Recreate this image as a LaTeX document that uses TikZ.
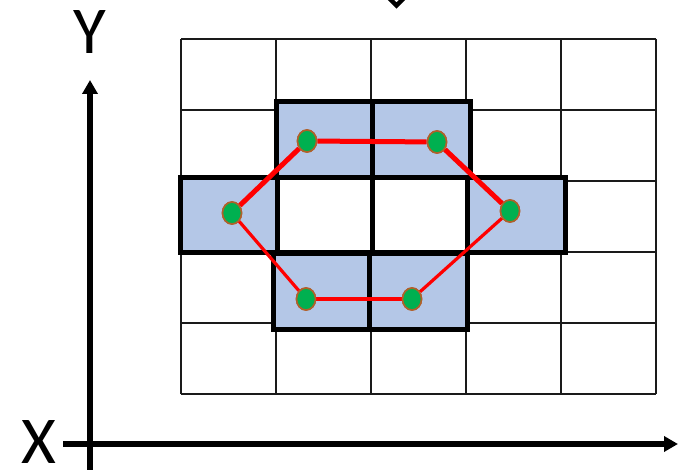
\documentclass[tikz,border=0pt]{standalone}
\usepackage{fontspec}
\setmainfont{Carlito}
\usetikzlibrary{arrows.meta,shapes.geometric}
\definecolor{cellblue}{HTML}{B4C7E7}
\definecolor{ptgreen}{HTML}{00B050}
\definecolor{ptbrown}{HTML}{B0602A}
\definecolor{gridgray}{HTML}{1A1A1A}
\tikzset{
  gridline/.style={draw=gridgray,line width=2pt},
  bluecell/.style={fill=cellblue,draw=black,line width=5pt},
  whitecell/.style={fill=white,draw=black,line width=5pt},
  pt/.style={ellipse,fill=ptgreen,draw=ptbrown,line width=1.6pt,minimum width=19pt,minimum height=22pt,inner sep=0pt},
  thickred/.style={draw=red,line width=5pt},
  thinred/.style={draw=red,line width=3.2pt},
  axis/.style={draw=black,line width=5.5pt,-{Triangle[width=15pt,length=14pt]}},
  axlabel/.style={font=\fontsize{67}{67}\selectfont,inner sep=0pt}
}
\begin{document}
\begin{tikzpicture}[x=1pt,y=-1pt]
\useasboundingbox (0,0) rectangle (678,470);
% grid
\foreach \gx in {181,276,371,466,561,656} \draw[gridline] (\gx,39) -- (\gx,394);
\foreach \gy in {39,110,181,252,323,394} \draw[gridline] (181,\gy) -- (656,\gy);
% cells
\draw[bluecell] (276,102) rectangle (372,178);
\draw[bluecell] (372,102) rectangle (470,178);
\draw[bluecell] (180,178) rectangle (277,253);
\draw[whitecell] (277,178) rectangle (372,253);
\draw[whitecell] (372,178) rectangle (467,253);
\draw[bluecell] (467,178) rectangle (565,253);
\draw[bluecell] (273,254) rectangle (369,330);
\draw[bluecell] (369,254) rectangle (467,330);
% points (named, for the connectors)
\node[pt] (p1) at (307,141) {};
\node[pt] (p2) at (437,142) {};
\node[pt] (p3) at (232,213) {};
\node[pt] (p4) at (510,211) {};
\node[pt] (p5) at (306,299) {};
\node[pt] (p6) at (412,299) {};
\draw[thickred] (p3) -- (p1);
\draw[thickred] (p1) -- (p2);
\draw[thickred] (p2) -- (p4);
\draw[thinred] (p3) -- (p5);
\draw[thinred] (p5) -- (p6);
\draw[thinred] (p6) -- (p4);
% redraw points on top of the lines
\foreach \p in {p1,p2,p3,p4,p5,p6} \node[pt] at (\p) {};
% axes
\coordinate (ybot) at (90,472);
\coordinate (ytop) at (90,80);
\coordinate (xleft) at (63,444);
\coordinate (xright) at (678,444);
\draw[axis] (ybot) -- (ytop);
\draw[axis] (xleft) -- (xright);
\node[axlabel] (ylab) at (90,32) {Y};
\node[axlabel] (xlab) at (39,442) {X};
% top fragment
\coordinate (va) at (388,-3);
\coordinate (vb) at (396.5,5.5);
\coordinate (vc) at (405,-3);
\draw[black,line width=4.5pt] (va) -- (vb) -- (vc);
\end{tikzpicture}
\end{document}
